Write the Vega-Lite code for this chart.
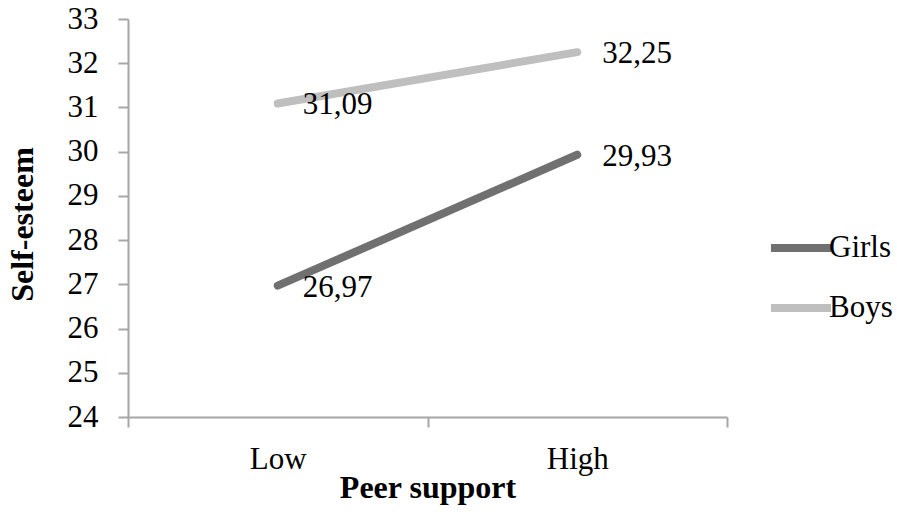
{
  "$schema": "https://vega.github.io/schema/vega-lite/v6.json",
  "width": 599,
  "height": 398,
  "autosize": "none",
  "padding": {"left": 128, "top": 19, "right": 170, "bottom": 106},
  "background": "white",
  "config": {
    "view": {"stroke": null},
    "font": "Liberation Serif",
    "locale": {"number": {"decimal": ",", "thousands": ".", "grouping": [3], "currency": ["", ""]}}
  },
  "data": {
    "values": [
      {"support": "Low", "gender": "Girls", "esteem": 26.97},
      {"support": "High", "gender": "Girls", "esteem": 29.93},
      {"support": "Low", "gender": "Boys", "esteem": 31.09},
      {"support": "High", "gender": "Boys", "esteem": 32.25}
    ]
  },
  "encoding": {
    "x": {
      "field": "support",
      "type": "nominal",
      "sort": ["Low", "High"],
      "scale": {"type": "band", "paddingInner": 0, "paddingOuter": 0},
      "axis": {
        "title": "Peer support",
        "titleFont": "Liberation Serif",
        "titleFontSize": 32,
        "titleFontWeight": "bold",
        "titleColor": "black",
        "titlePadding": -2,
        "labelAngle": 0,
        "labelFont": "Liberation Serif",
        "labelFontSize": 31,
        "labelColor": "black",
        "labelPadding": 17,
        "tickBand": "extent",
        "tickSize": 10,
        "tickColor": "#a6a6a6",
        "tickWidth": 2,
        "domainColor": "#a6a6a6",
        "domainWidth": 2,
        "grid": false
      }
    },
    "y": {
      "field": "esteem",
      "type": "quantitative",
      "scale": {"domain": [24, 33], "nice": false, "zero": false},
      "axis": {
        "title": "Self-esteem",
        "titleFont": "Liberation Serif",
        "titleFontSize": 32,
        "titleFontWeight": "bold",
        "titleColor": "black",
        "titlePadding": 28,
        "titleY": 205,
        "values": [24, 25, 26, 27, 28, 29, 30, 31, 32, 33],
        "format": "d",
        "labelFont": "Liberation Serif",
        "labelFontSize": 31,
        "labelColor": "black",
        "labelPadding": 20,
        "tickSize": 10,
        "tickColor": "#a6a6a6",
        "tickWidth": 2,
        "domainColor": "#a6a6a6",
        "domainWidth": 2,
        "grid": false
      }
    }
  },
  "layer": [
    {
      "mark": {"type": "line", "strokeWidth": 8, "strokeCap": "round"},
      "encoding": {
        "color": {
          "field": "gender",
          "type": "nominal",
          "sort": ["Girls", "Boys"],
          "scale": {"domain": ["Girls", "Boys"], "range": ["#707070", "#bfbfbf"]},
          "legend": {
            "title": null,
            "orient": "none",
            "legendX": 639,
            "legendY": 195,
            "symbolType": "stroke",
            "symbolSize": 3600,
            "symbolStrokeWidth": 8,
            "labelFont": "Liberation Serif",
            "labelFontSize": 31,
            "labelColor": "black",
            "labelOffset": -6,
            "rowPadding": 10
          }
        }
      }
    },
    {
      "mark": {"type": "text", "align": "left", "baseline": "middle", "dx": 25, "dy": 2, "fontSize": 31, "font": "Liberation Serif", "color": "black"},
      "encoding": {
        "text": {"field": "esteem", "type": "quantitative", "format": ".2f"}
      }
    }
  ]
}
